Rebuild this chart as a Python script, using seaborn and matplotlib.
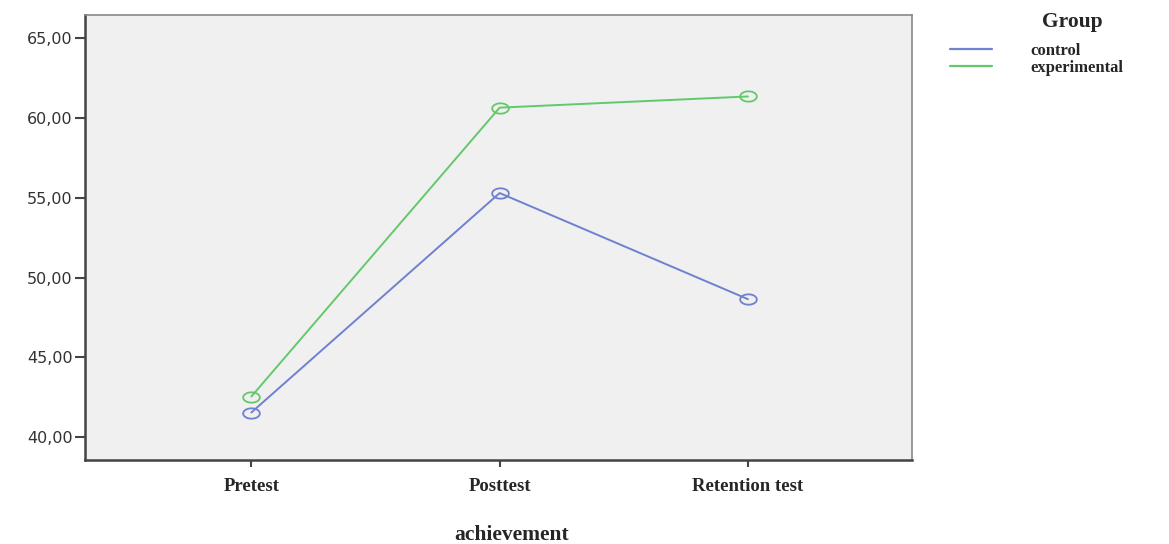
import numpy as np
import pandas as pd
from matplotlib import pyplot as plt
from matplotlib.lines import Line2D
import seaborn as sns

# valori
fasi = ["Pretest", "Posttest", "Retention test"]
control = [41.55, 55.3, 48.65]
experimental = [42.55, 60.65, 61.35]
gruppi = ["control", "experimental"]
colori = {"control": "#6f80cf", "experimental": "#62c96b"}

df = pd.DataFrame({
    "achievement": fasi * 2,
    "score": control + experimental,
    "Group": ["control"] * 3 + ["experimental"] * 3,
})

sns.set_style("white")
plt.rcParams["font.family"] = ["DejaVu Sans"]

fig = plt.figure(figsize=(11.69, 5.44), dpi=100)
ax = fig.add_axes([0.0727, 0.154, 0.7073, 0.818])

# marker ellittico vuoto
t = np.linspace(0, 2 * np.pi, 60)
ellisse = np.column_stack([np.cos(t) * 1.0, np.sin(t) * 0.62])

sns.lineplot(data=df, x="achievement", y="score", hue="Group", palette=colori,
             marker=ellisse, markersize=12, markerfacecolor="none",
             linewidth=1.4, legend=False, ax=ax)
for ln in ax.lines:
    ln.set_markeredgecolor(ln.get_color())
    ln.set_markeredgewidth(1.3)

ax.set_facecolor("#f0f0f0")
ax.set_xlim(-0.67, 2.66)
ax.set_ylim(38.56, 66.44)
ax.set_yticks([40, 45, 50, 55, 60, 65])
ax.set_yticklabels([f"{v:.2f}".replace(".", ",") for v in [40, 45, 50, 55, 60, 65]],
                   fontsize=11.5, color="#333333")
ax.set_xticks(range(3))
ax.set_xticklabels(fasi, family="Liberation Serif", fontweight="bold", fontsize=13.5)
ax.tick_params(axis="y", left=True, direction="out", length=7, width=1.5,
               color="#444444", pad=2)
ax.tick_params(axis="x", bottom=True, direction="out", length=5, width=1.5,
               color="#444444", pad=8)
for lato in ["left", "bottom"]:
    ax.spines[lato].set_color("#444444")
    ax.spines[lato].set_linewidth(1.8)
for lato in ["top", "right"]:
    ax.spines[lato].set_color("#888888")
    ax.spines[lato].set_linewidth(1.2)

ax.set_ylabel("")
ax.set_xlabel("")
fig.text(0.438, 0.0165, "achievement", family="Liberation Serif", fontweight="bold",
         fontsize=15.5, ha="center", va="center")

# legenda esterna
maniglie = [Line2D([0], [0], color=colori[g], linewidth=1.6) for g in gruppi]
leg = fig.legend(maniglie, gruppi, loc="upper left", bbox_to_anchor=(0.800, 0.948),
                 frameon=False, handlelength=2.5, handletextpad=2.3,
                 labelspacing=0.05,
                 prop={"family": "Liberation Serif", "weight": "bold", "size": 12})
fig.text(0.917, 0.96, "Group", family="Liberation Serif", fontweight="bold",
         fontsize=15.5, ha="center", va="center")

fig.savefig("out.png", dpi=100)
